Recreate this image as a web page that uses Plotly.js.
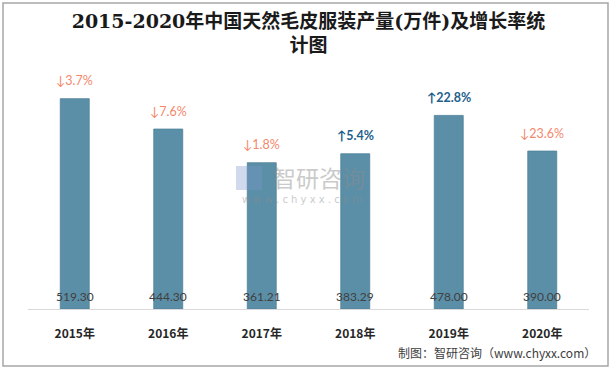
<!DOCTYPE html>
<html>
<head>
<meta charset="utf-8">
<script src="https://cdn.plot.ly/plotly-3.0.1.min.js"></script>
<style>html,body{margin:0;padding:0;background:#fff;}</style>
</head>
<body>
<div id="chart" style="width:612px;height:369px;"></div>
<script>
const categories = ["2015年", "2016年", "2017年", "2018年", "2019年", "2020年"];
const output = [519.30, 444.30, 361.21, 383.29, 478.00, 390.00];
const valueLabels = ["519.30", "444.30", "361.21", "383.29", "478.00", "390.00"];
const growth = [-3.7, -7.6, -1.8, 5.4, 22.8, -23.6];
const growthLabels = ["↓3.7%", "↓7.6%", "↓1.8%", "↑5.4%", "↑22.8%", "↓23.6%"];

const annotations = [];
categories.forEach((c, i) => {
  annotations.push({
    x: c, y: 0, xref: 'x', yref: 'y', text: valueLabels[i], showarrow: false,
    yanchor: 'middle', yshift: 13,
    font: {family: 'Lato, "Noto Sans", sans-serif', size: 12, color: '#404040'}
  });
  const up = growth[i] > 0;
  annotations.push({
    x: c, y: output[i], xref: 'x', yref: 'y', text: up ? '<b>' + growthLabels[i] + '</b>' : growthLabels[i],
    showarrow: false, yanchor: 'middle', yshift: 18,
    font: {family: 'Lato, "DejaVu Sans", sans-serif', size: 12.5, color: up ? '#1f5f8b' : '#f4876b'}
  });
});
// source
annotations.push({
  xref: 'paper', yref: 'paper', x: 1.016, y: -0.181, xanchor: 'right', yanchor: 'middle',
  text: '制图：智研咨询（www.chyxx.com）', showarrow: false,
  font: {family: '"Noto Sans CJK SC", "DejaVu Sans Mono", monospace', size: 12, color: '#404040'}
});
// watermark
annotations.push({
  xref: 'paper', yref: 'paper', x: (319 - 28) / 561, y: (309 - 177) / 243, xanchor: 'center', yanchor: 'middle',
  text: '智研咨询', showarrow: false, opacity: 0.45, borderpad: 0,
  font: {family: '"Noto Sans CJK SC", sans-serif', size: 23, color: '#8c8c8c'}
});
annotations.push({
  xref: 'paper', yref: 'paper', x: (302 - 28) / 561, y: (309 - 200) / 243, xanchor: 'center', yanchor: 'middle',
  text: 'w w w . c h y x x . c o m', showarrow: false, opacity: 0.45, borderpad: 0,
  font: {family: '"DejaVu Sans", sans-serif', size: 10, color: '#8c8c8c'}
});

const shapes = [
  {type: 'rect', xref: 'paper', yref: 'paper',
   x0: (3 - 28) / 561, x1: (608 - 28) / 561, y0: (309 - 366) / 243, y1: (309 - 3) / 243,
   line: {color: '#a6a6a6', width: 1.5}, fillcolor: 'rgba(0,0,0,0)'},
  // watermark logo
  {type: 'rect', xref: 'paper', yref: 'paper',
   x0: (236 - 28) / 561, x1: (262 - 28) / 561, y0: (309 - 190) / 243, y1: (309 - 166) / 243,
   line: {width: 0}, fillcolor: 'rgba(120,150,200,0.35)'}
];

const data = [{
  type: 'bar', x: categories, y: output, width: 0.31,
  marker: {color: '#5b8fa8', line: {color: '#4f8198', width: 0.8}},
  hoverinfo: 'none'
}];

const layout = {
  width: 612, height: 369,
  margin: {l: 28, r: 23, t: 66, b: 60, pad: 0},
  paper_bgcolor: '#ffffff', plot_bgcolor: '#ffffff',
  showlegend: false,
  title: {
    text: '<b>2015-2020年中国天然毛皮服装产量(万件)及增长率统<br>计图</b>',
    x: 0.5, xref: 'paper', xanchor: 'center', y: 0.925, yanchor: 'middle',
    font: {family: '"DejaVu Serif", "Noto Sans CJK SC", serif', size: 19, color: '#1a1a1a'}
  },
  xaxis: {
    type: 'category', showline: true, linecolor: '#d9d9d9', linewidth: 1,
    ticks: '', ticklabelstandoff: 14, showgrid: false, zeroline: false,
    tickfont: {family: '"Noto Sans CJK SC", Lato, sans-serif', size: 12, color: '#262626', weight: 'bold'}
  },
  yaxis: {range: [0, 600], visible: false, showgrid: false, zeroline: false},
  annotations: annotations,
  shapes: shapes
};

Plotly.newPlot('chart', data, layout, {displayModeBar: false, staticPlot: true});
</script>
</body>
</html>
